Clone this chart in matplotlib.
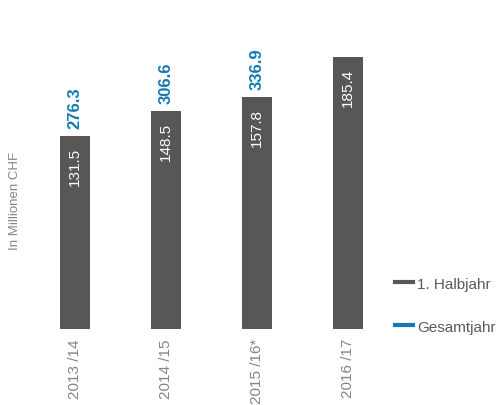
import matplotlib.pyplot as plt
from matplotlib.lines import Line2D

plt.rcParams['font.family'] = ['Liberation Sans', 'DejaVu Sans']

# Daten (in Millionen CHF)
jahre = ['2013 /14', '2014 /15', '2015 /16*', '2016 /17']
halbjahr = [131.5, 148.5, 157.8, 185.4]
gesamtjahr = [276.3, 306.6, 336.9, None]

grau = '#585756'
blau = '#1479b0'

fig = plt.figure(figsize=(5.04, 4.06), dpi=100)
ax = fig.add_axes([29.5 / 504, 76 / 406, 364 / 504, 310 / 406])

x = range(len(jahre))
ax.bar(x, halbjahr, width=0.34, color=grau)

for i, (h, g) in enumerate(zip(halbjahr, gesamtjahr)):
    ax.annotate(f'{h:.1f}', (i, h), xytext=(0, -7.5), textcoords='offset points',
                rotation=90, ha='center', va='top', color='white', fontsize=11)
    if g is not None:
        ax.annotate(f'{g:.1f}', (i, h), xytext=(0, 5.8), textcoords='offset points',
                    rotation=90, ha='center', va='bottom', color=blau,
                    fontsize=12, fontweight='bold')

ax.set_xlim(-0.5, 3.5)
ax.set_ylim(0, 211.3)
ax.set_xticks(list(x))
ax.set_xticklabels(jahre, rotation=90, color='#858585', fontsize=11, va='top')
ax.tick_params(axis='x', length=0, pad=6.5)
ax.set_yticks([])
for s in ax.spines.values():
    s.set_visible(False)

fig.text(15 / 504, 0.505, 'In Millionen CHF', rotation=90, ha='center', va='center',
         color='#858585', fontsize=9.5)

handles = [Line2D([], [], color=grau, lw=3), Line2D([], [], color=blau, lw=3)]
fig.legend(handles, ['1. Halbjahr', 'Gesamtjahr'], loc='center left',
           bbox_to_anchor=(395 / 504, 0.246), frameon=False, fontsize=11,
           handlelength=1.2, handletextpad=0.25, labelspacing=1.9,
           borderpad=0, borderaxespad=0, labelcolor='#5a5a5a')

fig.savefig('out.png', dpi=100)
